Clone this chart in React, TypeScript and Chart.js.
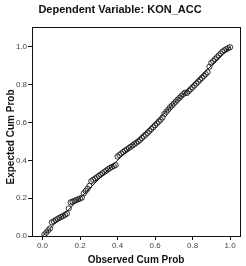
import React, { useEffect, useRef } from "react";
import { Chart, registerables } from "chart.js";

Chart.register(...registerables);

const titleText = "Dependent Variable: KON_ACC";
const xTitle = "Observed Cum Prob";
const yTitle = "Expected Cum Prob";
const tickValues = [0, 0.2, 0.4, 0.6, 0.8, 1.0];

const observed = [
  0.01, 0.02, 0.03, 0.04, 0.05, 0.06, 0.07, 0.08, 0.09, 0.10,
  0.11, 0.12, 0.13, 0.14, 0.15, 0.16, 0.17, 0.18, 0.19, 0.20,
  0.21, 0.22, 0.23, 0.24, 0.25, 0.26, 0.27, 0.28, 0.29, 0.30,
  0.31, 0.32, 0.33, 0.34, 0.35, 0.36, 0.37, 0.38, 0.39, 0.40,
  0.41, 0.42, 0.43, 0.44, 0.45, 0.46, 0.47, 0.48, 0.49, 0.50,
  0.51, 0.52, 0.53, 0.54, 0.55, 0.56, 0.57, 0.58, 0.59, 0.60,
  0.61, 0.62, 0.63, 0.64, 0.65, 0.66, 0.67, 0.68, 0.69, 0.70,
  0.71, 0.72, 0.73, 0.74, 0.75, 0.76, 0.77, 0.78, 0.79, 0.80,
  0.81, 0.82, 0.83, 0.84, 0.85, 0.86, 0.87, 0.88, 0.89, 0.90,
  0.91, 0.92, 0.93, 0.94, 0.95, 0.96, 0.97, 0.98, 0.99, 1.00,
];

const expected = [
  0.008, 0.018, 0.03, 0.04, 0.072, 0.078, 0.084, 0.09, 0.096, 0.101,
  0.106, 0.112, 0.118, 0.146, 0.178, 0.182, 0.186, 0.19, 0.194, 0.198,
  0.203, 0.225, 0.238, 0.25, 0.265, 0.29, 0.297, 0.304, 0.311, 0.318,
  0.325, 0.332, 0.339, 0.346, 0.353, 0.36, 0.365, 0.37, 0.375, 0.42,
  0.428, 0.436, 0.444, 0.451, 0.458, 0.465, 0.472, 0.479, 0.486, 0.493,
  0.50, 0.508, 0.518, 0.527, 0.536, 0.545, 0.555, 0.565, 0.575, 0.585,
  0.595, 0.605, 0.615, 0.627, 0.645, 0.657, 0.668, 0.68, 0.69, 0.70,
  0.71, 0.72, 0.73, 0.74, 0.75, 0.758, 0.756, 0.766, 0.776, 0.786,
  0.796, 0.806, 0.816, 0.826, 0.836, 0.846, 0.856, 0.866, 0.895, 0.915,
  0.925, 0.935, 0.945, 0.955, 0.965, 0.975, 0.982, 0.988, 0.993, 0.998,
];

const diagonal = [0, 1];

const FONT = "'Liberation Sans', Arial, sans-serif";

const framePlugin = {
  id: "frameAndTitles",
  afterDraw(chart: any) {
    const { ctx, chartArea } = chart;
    ctx.save();
    ctx.strokeStyle = "#111";
    ctx.lineWidth = 1;
    ctx.strokeRect(
      Math.round(chartArea.left) + 0.5,
      Math.round(chartArea.top) + 0.5,
      Math.round(chartArea.right - chartArea.left),
      Math.round(chartArea.bottom - chartArea.top)
    );
    ctx.fillStyle = "#111";
    ctx.textAlign = "center";
    ctx.textBaseline = "alphabetic";
    ctx.font = `bold 11px ${FONT}`;
    ctx.fillText(titleText, 120, 13);
    ctx.font = `bold 10px ${FONT}`;
    ctx.fillText(xTitle, (chartArea.left + chartArea.right) / 2, 263);
    ctx.translate(14, 137);
    ctx.rotate(-Math.PI / 2);
    ctx.fillText(yTitle, 0, 0);
    ctx.restore();
  },
};

export default function App() {
  const ref = useRef<HTMLCanvasElement>(null);
  useEffect(() => {
    const canvas = ref.current;
    if (!canvas) return;
    const chart = new Chart(canvas, {
      type: "scatter",
      data: {
        datasets: [
          {
            type: "line",
            data: diagonal.map((v) => ({ x: v, y: v })),
            borderColor: "#111",
            borderWidth: 1,
            pointRadius: 0,
            fill: false,
          } as any,
          {
            data: observed.map((o, i) => ({ x: o, y: expected[i] })),
            pointRadius: 2.6,
            pointBorderWidth: 0.9,
            pointBorderColor: "#1a1a1a",
            pointBackgroundColor: "rgba(0,0,0,0)",
          },
        ],
      },
      options: {
        responsive: false,
        animation: false,
        layout: { padding: { top: 27, right: 6, left: 0, bottom: 0 } },
        plugins: {
          legend: { display: false },
          tooltip: { enabled: false },
          title: { display: false },
        },
        scales: {
          x: {
            type: "linear",
            min: -0.056,
            max: 1.053,
            afterBuildTicks: (s: any) => {
              s.ticks = tickValues.map((v) => ({ value: v }));
            },
            afterFit: (s: any) => {
              s.height = 30;
            },
            grid: { drawOnChartArea: false, tickLength: 4, color: "#111" },
            border: { display: false },
            ticks: {
              padding: 1,
              color: "#444",
              font: { family: FONT, size: 8 },
              callback: (v: any) => Number(v).toFixed(1),
              maxRotation: 0,
            },
          },
          y: {
            type: "linear",
            min: 0,
            max: 1.105,
            afterBuildTicks: (s: any) => {
              s.ticks = tickValues.map((v) => ({ value: v }));
            },
            afterFit: (s: any) => {
              s.width = 32;
            },
            grid: { drawOnChartArea: false, tickLength: 4, color: "#111" },
            border: { display: false },
            ticks: {
              padding: 1,
              color: "#444",
              font: { family: FONT, size: 8 },
              callback: (v: any) => Number(v).toFixed(1),
            },
          },
        },
      },
      plugins: [framePlugin],
    });
    return () => chart.destroy();
  }, []);
  return (
    <div style={{ position: "fixed", left: 0, top: 0, width: 246, height: 266, background: "#fff" }}>
      <canvas ref={ref} width={246} height={266} style={{ display: "block" }} />
    </div>
  );
}
